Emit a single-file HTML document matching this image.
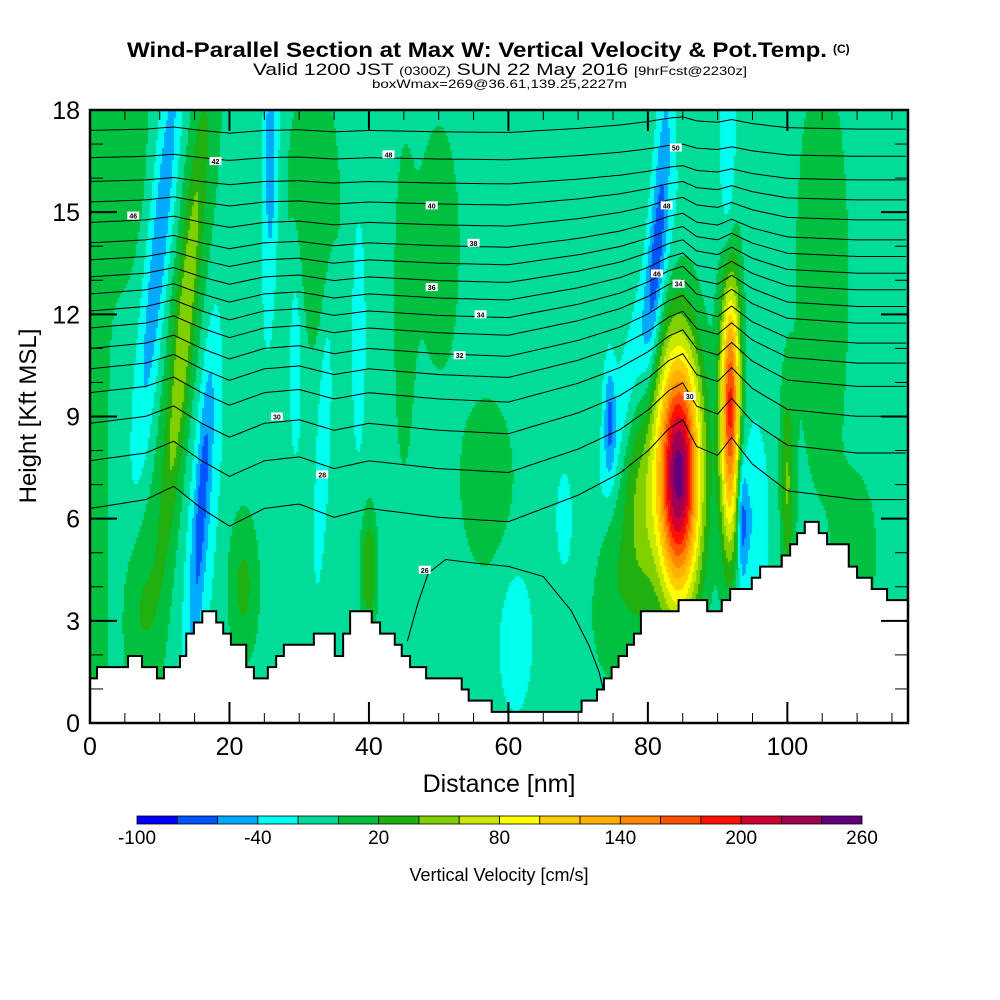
<!DOCTYPE html>
<html><head><meta charset="utf-8">
<style>
body{margin:0;background:#fff;width:1000px;height:1000px;position:relative;overflow:hidden;font-family:"Liberation Sans",sans-serif}
#field{position:absolute;left:90px;top:110px}
#ov{position:absolute;left:0;top:0}
</style></head>
<body>
<canvas id="field" width="818" height="613"></canvas>
<svg id="ov" width="1000" height="1000" xmlns="http://www.w3.org/2000/svg">
<g id="contours"></g>
<g id="terrain"></g>
<g id="labels"></g>
<g id="axes"></g>
<g id="cbar"></g>
<text x="127" y="57" font-size="21" font-weight="bold" textLength="700" lengthAdjust="spacingAndGlyphs">Wind-Parallel Section at Max W: Vertical Velocity &amp; Pot.Temp.</text>
<text x="833" y="53" font-size="12" font-weight="bold">(C)</text>
<text x="253" y="75" font-size="17" textLength="494" lengthAdjust="spacingAndGlyphs">Valid 1200 JST <tspan font-size="12">(0300Z)</tspan> SUN 22 May 2016 <tspan font-size="12">[9hrFcst@2230z]</tspan></text>
<text x="372" y="88" font-size="12" textLength="255" lengthAdjust="spacingAndGlyphs">boxWmax=269@36.61,139.25,2227m</text>
<text x="499" y="792" text-anchor="middle" font-size="25">Distance [nm]</text>
<text transform="translate(36,416) rotate(-90)" text-anchor="middle" font-size="24">Height [Kft MSL]</text>
<text x="499" y="881" text-anchor="middle" font-size="18">Vertical Velocity [cm/s]</text>
</svg>
<script>
// ---- data ----
const xTicks=[0,20,40,60,80,100];
const yTicks=[0,3,6,9,12,15,18];
const cbarLevels=[-100,-80,-60,-40,-20,0,20,40,60,80,100,120,140,160,180,200,220,240,260];
const cbarLabels=[-100,-40,20,80,140,200,260];
const cbarColors=["#0000ff","#0055ff","#00aaff","#00ffee","#00dd99","#00c040","#20b010","#80d000","#c8e800","#ffff00","#ffcc00","#ffb000","#ff8800","#ff5000","#ff1000","#d00030","#a00050","#600080"];
// velocity features (nm, kft, sx nm, sy kft, tilt nm/kft, amplitude cm/s)
const blobCx =[1,5,7,13.5,13.5,10,16,16,26,25.6,29.5,33.5,38.5,32,22,40,50,61,68,78,81.5,74.5,91.5,79,84.4,91.8,93.5,95,100,105,110,57,75,45];
const blobCy =[9,16,3.5,11.5,11.5,14,6.5,6.5,15.5,17,11,8.5,11.5,15,4,4.5,14,2.5,6,10.5,14.5,9,15.5,6.5,7.3,9.3,6,6,7,13,5,7,4,12];
const blobSx =[1.2,2.5,2,2.5,0.9,1.3,1.6,0.7,0.8,0.5,0.7,0.7,0.7,3,1.5,0.8,2.5,1.8,0.8,1.6,0.9,0.6,0.8,1.8,2.2,1.0,0.5,1.6,0.7,3,2,3,2.5,1.2];
const blobSy =[10,2.5,2,6,4.5,5,4,3.2,3,1.2,2.2,3,2.5,3,1.5,1.2,3,1.6,1,3.5,3.5,1.2,3,2.5,2.6,2.8,1.3,2,2,5,1.5,2,2,4];
const blobTilt=[0,0.3,0,0.45,0.45,0.45,0.3,0.3,0.1,0,0,0.2,0,0,0,0,0,0,0,1.1,0.33,0,0,0,0,0,0,0,0,0,0,0,0,0];
const blobAmp=[25,25,25,30,40,-50,-35,-30,-35,-25,-30,-30,-28,25,35,50,20,-25,-25,-30,-50,-45,-35,50,260,200,-55,-30,50,22,25,22,25,18];
const baseW=-10;
// terrain
const tEdges=[0,1,5.45,7.46,9.6,10.6,12.9,13.8,14.9,16.1,18.1,19.1,20.2,22.4,23.5,25.5,26.7,27.8,32.1,35.1,36.3,37.3,40.4,41.6,43.7,44.7,45.9,48.2,53.3,54.3,57.6,70.5,72.7,73.7,74.8,75.8,77.0,78.0,79.0,84.4,88.5,90.6,91.8,94.9,96.1,99.2,100.4,101.4,102.5,104.5,105.7,108.8,110.0,112.1,114.3,117.3];
const tLevels=[4,5,6,5,4,5,6,8,9,10,9,8,7,5,4,5,6,7,8,6,8,10,9,8,7,6,5,4,3,2,1,2,3,4,5,6,7,8,10,11,10,11,12,13,14,15,16,17,18,17,16,14,13,12,11];
// theta contours
const thetaBase=[6.3,7.7,8.8,9.7,10.4,11.0,11.6,12.1,12.6,13.1,13.6,14.1,14.7,15.3,15.9,16.6,17.4];
const profX=[0,8,12,16,20,25,30,35,40,50,60,70,76,80,83,85,87,90,92,95,100,110,117.3];
const profY=[0,0.2,0.5,0,-0.4,0,0.1,-0.2,0,-0.2,-0.3,0.3,0.8,1.3,1.8,2.0,1.4,1.2,1.6,1.0,0.4,0.2,0.2];
const domeX=[45.5,47,48.5,51,55,60,65,69,71.5,73,73.7];
const domeY=[2.4,3.5,4.4,4.8,4.7,4.6,4.3,3.3,2.3,1.5,0.9];
const lblText=["46","42","48","40","38","36","34","32","30","28","26","50","48","46","34","30"];
const lblX=[6.2,18,42.8,49,55,49,56,53,26.8,33.3,48,84,82.7,81.3,84.4,86];
const lblY=[14.9,16.5,16.7,15.2,14.1,12.8,12.0,10.8,9.0,7.3,4.5,16.9,15.2,13.2,12.9,9.6];

// ---- scales ----
const X0=90,X1=908,Y0=723,Y1=110,XMAX=117.3,YMAX=18;
const sx=v=>X0+v*(X1-X0)/XMAX;
const sy=v=>Y0-v*(Y0-Y1)/YMAX;
const NS="http://www.w3.org/2000/svg";
function mk(tag,attrs,parent){const e=document.createElementNS(NS,tag);for(const k in attrs)e.setAttribute(k,attrs[k]);parent.appendChild(e);return e;}

// ---- field ----
(function(){
 const c=document.getElementById('field'),ctx=c.getContext('2d');const cell=2;
 for(let py=0;py<613;py+=cell){
  const ky=(613-py-cell/2)*YMAX/613;
  for(let px=0;px<818;px+=cell){
   const kx=(px+cell/2)*XMAX/818;
   let v=baseW;
   for(let i=0;i<blobCx.length;i++){
    const dy=(ky-blobCy[i]);const dx=(kx-blobCx[i]-blobTilt[i]*dy);
    const e=(dx*dx)/(2*blobSx[i]*blobSx[i])+(dy*dy)/(2*blobSy[i]*blobSy[i]);
    if(e<12)v+=blobAmp[i]*Math.exp(-e);
   }
   let b=Math.floor((v-cbarLevels[0])/20);b=Math.max(0,Math.min(cbarColors.length-1,b));
   ctx.fillStyle=cbarColors[b];ctx.fillRect(px,py,cell,cell);
  }
 }
})();

// ---- contours ----
const cg=document.getElementById('contours');
function prof(x){for(let i=0;i<profX.length-1;i++){if(x<=profX[i+1]){const t=(x-profX[i])/(profX[i+1]-profX[i]);return profY[i]+t*(profY[i+1]-profY[i]);}}return profY[profY.length-1];}
thetaBase.forEach((b,i)=>{
 const w=Math.max(0.2,Math.min(1.4,(18-b)/9));let d='';
 for(let x=0;x<=XMAX+0.01;x+=0.5){const y=Math.min(18,b+w*prof(x));d+=(x?'L':'M')+sx(x).toFixed(1)+','+sy(y).toFixed(1);}
 const p=mk('path',{d:d,fill:'none',stroke:'#000','stroke-width':1},cg);
 
 
});
{let d='';domeX.forEach((x,i)=>{d+=(i?'L':'M')+sx(x)+','+sy(domeY[i]);});
 const p=mk('path',{d:d,fill:'none',stroke:'#000','stroke-width':1},cg);
 
 }

// ---- terrain ----
const tg=document.getElementById('terrain');
{let pts=sx(0)+','+sy(0)+' ';
 tLevels.forEach((l,i)=>{const h=l*0.328;pts+=sx(tEdges[i])+','+sy(h)+' '+sx(tEdges[i+1])+','+sy(h)+' ';});
 pts+=sx(XMAX)+','+sy(0);
 const p=mk('polygon',{points:pts,fill:'#fff',stroke:'#000','stroke-width':2},tg);
 
 }

// ---- contour labels ----
const lg=document.getElementById('labels');
lblText.forEach((t,i)=>{
 const r=mk('rect',{x:sx(lblX[i])-6,y:sy(lblY[i])-4,width:12,height:8,fill:'#fff'},lg);
 
 
 const tx=mk('text',{x:sx(lblX[i]),y:sy(lblY[i])+3,'font-size':7,'text-anchor':'middle','font-weight':'bold'},lg);
 tx.textContent=t;
 
 
});

// ---- axes ----
const ag=document.getElementById('axes');
for(let v=0;v<=115;v+=5){const maj=v%20===0;const L=maj?21:10;
 const t1=mk('line',{x1:sx(v),x2:sx(v),y1:Y0,y2:Y0-L,stroke:'#000','stroke-width':maj?2:1},ag);
 
 const t2=mk('line',{x1:sx(v),x2:sx(v),y1:Y1,y2:Y1+L,stroke:'#000','stroke-width':maj?2:1},ag);
 }
for(let v=0;v<=18;v++){const maj=v%3===0;const L=maj?27:13;
 const t1=mk('line',{x1:X0,x2:X0+L,y1:sy(v),y2:sy(v),stroke:'#000','stroke-width':maj?2:1},ag);
 
 const t2=mk('line',{x1:X1,x2:X1-L,y1:sy(v),y2:sy(v),stroke:'#000','stroke-width':maj?2:1},ag);
 }
xTicks.forEach(v=>{const t=mk('text',{x:sx(v),y:755,'font-size':25,'text-anchor':'middle'},ag);t.textContent=v;
 });
yTicks.forEach(v=>{const t=mk('text',{x:80,y:sy(v)+9,'font-size':25,'text-anchor':'end'},ag);t.textContent=v;
 });
{const f=mk('rect',{x:X0,y:Y1,width:X1-X0,height:Y0-Y1,fill:'none',stroke:'#000','stroke-width':2.5},ag);
 }

// ---- colorbar ----
const bg=document.getElementById('cbar');
const CB0=137,CB1=862;const cbx=v=>CB0+(v-cbarLevels[0])*(CB1-CB0)/(cbarLevels[cbarLevels.length-1]-cbarLevels[0]);
cbarColors.forEach((c,i)=>{const r=mk('rect',{x:cbx(cbarLevels[i]),y:816,width:cbx(cbarLevels[i+1])-cbx(cbarLevels[i]),height:8,fill:c,stroke:'#000','stroke-width':0.8},bg);
 });
cbarLabels.forEach(v=>{const t=mk('text',{x:cbx(v),y:844,'font-size':19,'text-anchor':'middle'},bg);t.textContent=v;
 });
</script>
</body></html>
